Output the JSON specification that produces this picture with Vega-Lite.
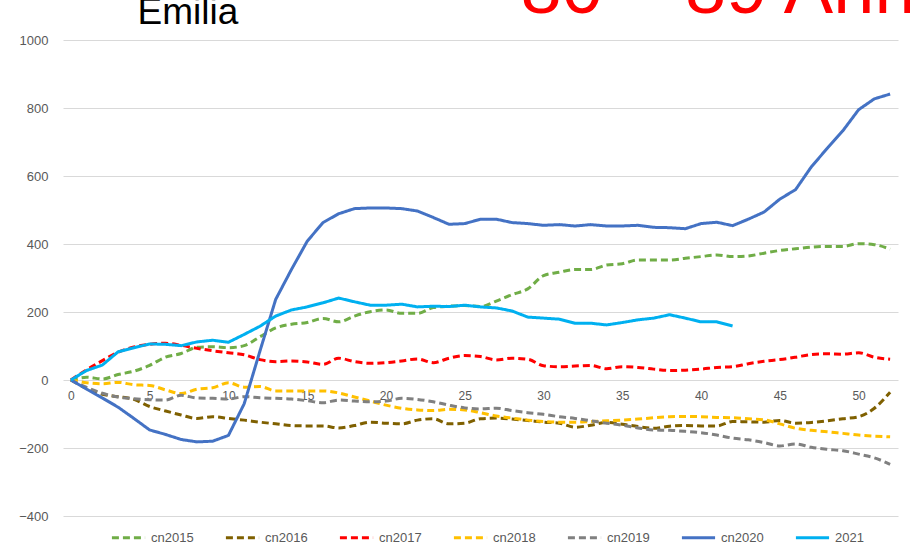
{
  "$schema": "https://vega.github.io/schema/vega-lite/v6.json",
  "width": 835,
  "height": 476,
  "autosize": {"type": "none"},
  "padding": {"left": 63, "top": 40, "right": 12, "bottom": 39},
  "background": "white",
  "config": {"view": {"stroke": null}, "font": "Liberation Sans"},
  "data": {"values": [
    {"x":0,"cn2015":0,"cn2016":0,"cn2017":0,"cn2018":0,"cn2019":0,"cn2020":0,"2021":0},
    {"x":1,"cn2015":8,"cn2016":-25,"cn2017":30,"cn2018":-8,"cn2019":-22,"cn2020":-27,"2021":28},
    {"x":2,"cn2015":3,"cn2016":-42,"cn2017":57,"cn2018":-11,"cn2019":-39,"cn2020":-53,"2021":44},
    {"x":3,"cn2015":16,"cn2016":-49,"cn2017":82,"cn2018":-7,"cn2019":-50,"cn2020":-80,"2021":83},
    {"x":4,"cn2015":26,"cn2016":-57,"cn2017":97,"cn2018":-14,"cn2019":-55,"cn2020":-113,"2021":95},
    {"x":5,"cn2015":43,"cn2016":-78,"cn2017":105,"cn2018":-16,"cn2019":-58,"cn2020":-147,"2021":106},
    {"x":6,"cn2015":67,"cn2016":-91,"cn2017":108,"cn2018":-29,"cn2019":-59,"cn2020":-160,"2021":105},
    {"x":7,"cn2015":78,"cn2016":-103,"cn2017":102,"cn2018":-40,"cn2019":-45,"cn2020":-175,"2021":101},
    {"x":8,"cn2015":96,"cn2016":-113,"cn2017":93,"cn2018":-27,"cn2019":-53,"cn2020":-182,"2021":112},
    {"x":9,"cn2015":98,"cn2016":-108,"cn2017":86,"cn2018":-23,"cn2019":-54,"cn2020":-180,"2021":117},
    {"x":10,"cn2015":95,"cn2016":-113,"cn2017":80,"cn2018":-8,"cn2019":-56,"cn2020":-163,"2021":111},
    {"x":11,"cn2015":101,"cn2016":-118,"cn2017":74,"cn2018":-21,"cn2019":-49,"cn2020":-70,"2021":134},
    {"x":12,"cn2015":127,"cn2016":-124,"cn2017":60,"cn2018":-19,"cn2019":-52,"cn2020":85,"2021":158},
    {"x":13,"cn2015":153,"cn2016":-129,"cn2017":54,"cn2018":-32,"cn2019":-54,"cn2020":237,"2021":188},
    {"x":14,"cn2015":164,"cn2016":-134,"cn2017":56,"cn2018":-32,"cn2019":-56,"cn2020":325,"2021":206},
    {"x":15,"cn2015":169,"cn2016":-135,"cn2017":53,"cn2018":-32,"cn2019":-61,"cn2020":408,"2021":215},
    {"x":16,"cn2015":181,"cn2016":-135,"cn2017":46,"cn2018":-32,"cn2019":-67,"cn2020":463,"2021":227},
    {"x":17,"cn2015":171,"cn2016":-141,"cn2017":64,"cn2018":-38,"cn2019":-59,"cn2020":489,"2021":241},
    {"x":18,"cn2015":188,"cn2016":-134,"cn2017":54,"cn2018":-50,"cn2019":-62,"cn2020":504,"2021":230},
    {"x":19,"cn2015":201,"cn2016":-124,"cn2017":49,"cn2018":-62,"cn2019":-64,"cn2020":506,"2021":220},
    {"x":20,"cn2015":206,"cn2016":-127,"cn2017":51,"cn2018":-74,"cn2019":-62,"cn2020":506,"2021":220},
    {"x":21,"cn2015":196,"cn2016":-129,"cn2017":56,"cn2018":-83,"cn2019":-54,"cn2020":504,"2021":223},
    {"x":22,"cn2015":196,"cn2016":-118,"cn2017":62,"cn2018":-88,"cn2019":-57,"cn2020":497,"2021":215},
    {"x":23,"cn2015":213,"cn2016":-114,"cn2017":51,"cn2018":-90,"cn2019":-64,"cn2020":478,"2021":217},
    {"x":24,"cn2015":217,"cn2016":-129,"cn2017":64,"cn2018":-86,"cn2019":-74,"cn2020":458,"2021":216},
    {"x":25,"cn2015":219,"cn2016":-127,"cn2017":72,"cn2018":-88,"cn2019":-82,"cn2020":460,"2021":220},
    {"x":26,"cn2015":216,"cn2016":-114,"cn2017":69,"cn2018":-96,"cn2019":-85,"cn2020":473,"2021":215},
    {"x":27,"cn2015":232,"cn2016":-112,"cn2017":59,"cn2018":-106,"cn2019":-83,"cn2020":473,"2021":212},
    {"x":28,"cn2015":251,"cn2016":-115,"cn2017":64,"cn2018":-112,"cn2019":-90,"cn2020":463,"2021":203},
    {"x":29,"cn2015":268,"cn2016":-119,"cn2017":61,"cn2018":-118,"cn2019":-96,"cn2020":460,"2021":185},
    {"x":30,"cn2015":307,"cn2016":-124,"cn2017":42,"cn2018":-122,"cn2019":-101,"cn2020":455,"2021":182},
    {"x":31,"cn2015":317,"cn2016":-127,"cn2017":39,"cn2018":-124,"cn2019":-108,"cn2020":457,"2021":179},
    {"x":32,"cn2015":325,"cn2016":-139,"cn2017":41,"cn2018":-124,"cn2019":-113,"cn2020":453,"2021":167},
    {"x":33,"cn2015":325,"cn2016":-133,"cn2017":43,"cn2018":-122,"cn2019":-120,"cn2020":457,"2021":167},
    {"x":34,"cn2015":338,"cn2016":-125,"cn2017":33,"cn2018":-120,"cn2019":-127,"cn2020":453,"2021":162},
    {"x":35,"cn2015":342,"cn2016":-130,"cn2017":39,"cn2018":-118,"cn2019":-133,"cn2020":453,"2021":169},
    {"x":36,"cn2015":353,"cn2016":-137,"cn2017":37,"cn2018":-115,"cn2019":-141,"cn2020":455,"2021":177},
    {"x":37,"cn2015":353,"cn2016":-142,"cn2017":32,"cn2018":-111,"cn2019":-147,"cn2020":449,"2021":182},
    {"x":38,"cn2015":353,"cn2016":-136,"cn2017":28,"cn2018":-108,"cn2019":-148,"cn2020":448,"2021":192},
    {"x":39,"cn2015":358,"cn2016":-134,"cn2017":29,"cn2018":-107,"cn2019":-151,"cn2020":445,"2021":182},
    {"x":40,"cn2015":363,"cn2016":-135,"cn2017":32,"cn2018":-108,"cn2019":-155,"cn2020":460,"2021":171},
    {"x":41,"cn2015":368,"cn2016":-135,"cn2017":37,"cn2018":-110,"cn2019":-162,"cn2020":464,"2021":171},
    {"x":42,"cn2015":363,"cn2016":-122,"cn2017":39,"cn2018":-111,"cn2019":-171,"cn2020":454,"2021":159},
    {"x":43,"cn2015":365,"cn2016":-123,"cn2017":48,"cn2018":-114,"cn2019":-176,"cn2020":473,"2021":null},
    {"x":44,"cn2015":373,"cn2016":-124,"cn2017":55,"cn2018":-117,"cn2019":-184,"cn2020":494,"2021":null},
    {"x":45,"cn2015":381,"cn2016":-119,"cn2017":60,"cn2018":-129,"cn2019":-194,"cn2020":532,"2021":null},
    {"x":46,"cn2015":386,"cn2016":-127,"cn2017":67,"cn2018":-142,"cn2019":-188,"cn2020":560,"2021":null},
    {"x":47,"cn2015":391,"cn2016":-125,"cn2017":75,"cn2018":-148,"cn2019":-198,"cn2020":627,"2021":null},
    {"x":48,"cn2015":393,"cn2016":-120,"cn2017":77,"cn2018":-152,"cn2019":-204,"cn2020":681,"2021":null},
    {"x":49,"cn2015":393,"cn2016":-114,"cn2017":76,"cn2018":-157,"cn2019":-208,"cn2020":733,"2021":null},
    {"x":50,"cn2015":401,"cn2016":-108,"cn2017":80,"cn2018":-162,"cn2019":-218,"cn2020":795,"2021":null},
    {"x":51,"cn2015":398,"cn2016":-83,"cn2017":67,"cn2018":-165,"cn2019":-229,"cn2020":827,"2021":null},
    {"x":52,"cn2015":385,"cn2016":-36,"cn2017":61,"cn2018":-167,"cn2019":-248,"cn2020":841,"2021":null}
  ]},
  "transform": [
    {"fold": ["cn2015","cn2016","cn2017","cn2018","cn2019","cn2020","2021"], "as": ["s","v"]},
    {"filter": {"field": "v", "valid": true}}
  ],
  "encoding": {
    "x": {
      "field": "x", "type": "quantitative",
      "scale": {"domain": [-0.5, 52.5], "nice": false, "zero": false},
      "axis": {
        "values": [0,5,10,15,20,25,30,35,40,45,50],
        "offset": -136, "domain": false, "ticks": false, "grid": false,
        "labelPadding": 10, "labelColor": "#595959", "labelFontSize": 12,
        "title": "80 – 89 Anni", "titleX": 457, "titleY": -368,
        "titleAlign": "left", "titleBaseline": "alphabetic",
        "titleFontSize": 74, "titleFontWeight": "normal", "titleColor": "#FF0000"
      }
    },
    "y": {
      "field": "v", "type": "quantitative",
      "scale": {"domain": [-400, 1000], "nice": false},
      "axis": {
        "values": [-400,-200,0,200,400,600,800,1000], "format": "d",
        "domain": false, "ticks": false, "gridColor": "#D9D9D9", "gridWidth": 1,
        "labelPadding": 15, "labelColor": "#595959", "labelFontSize": 13,
        "title": "Emilia", "titleAngle": 0, "titleX": 74, "titleY": -17,
        "titleAlign": "left", "titleBaseline": "alphabetic",
        "titleFontSize": 37, "titleFontWeight": "normal", "titleColor": "#000000"
      }
    },
    "color": {
      "field": "s", "type": "nominal",
      "scale": {
        "domain": ["cn2015","cn2016","cn2017","cn2018","cn2019","cn2020","2021"],
        "range": ["#70AD47","#7F6000","#FF0000","#FFC000","#808080","#4472C4","#00B0F0"]
      },
      "legend": {
        "orient": "none", "legendX": 47, "legendY": 479, "direction": "horizontal", "columns": 7,
        "title": null, "symbolType": "stroke", "symbolSize": 1100, "symbolStrokeWidth": 3,
        "labelFontSize": 13, "labelColor": "#595959", "columnPadding": 25, "labelOffset": 4
      }
    },
    "strokeDash": {
      "field": "s", "type": "nominal",
      "scale": {
        "domain": ["cn2015","cn2016","cn2017","cn2018","cn2019","cn2020","2021"],
        "range": [[7,4],[7,4],[7,4],[7,4],[7,4],[1,0],[1,0]]
      },
      "legend": {
        "orient": "none", "legendX": 47, "legendY": 479, "direction": "horizontal", "columns": 7,
        "title": null, "symbolType": "stroke", "symbolSize": 1100, "symbolStrokeWidth": 3,
        "labelFontSize": 13, "labelColor": "#595959", "columnPadding": 25, "labelOffset": 4
      }
    }
  },
  "layer": [
    {
      "transform": [{"filter": {"field": "s", "oneOf": ["cn2015","cn2016","cn2017","cn2018","cn2019"]}}],
      "mark": {"type": "line", "interpolate": "monotone", "strokeWidth": 3}
    },
    {
      "transform": [{"filter": {"field": "s", "oneOf": ["cn2020","2021"]}}],
      "mark": {"type": "line", "strokeWidth": 3}
    }
  ]
}
